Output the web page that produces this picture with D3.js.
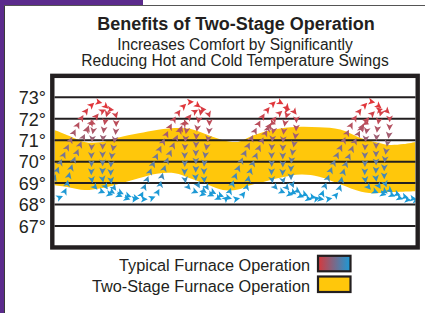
<!DOCTYPE html>
<html><head><meta charset="utf-8">
<script src="https://cdn.jsdelivr.net/npm/d3@7"></script>
<style>html,body{margin:0;padding:0;background:#fff;}svg{display:block;}</style>
</head><body>
<svg id="c" width="425" height="313"></svg>
<script>
// ---- data ----
const title = "Benefits of Two-Stage Operation";
const subtitle = ["Increases Comfort by Significantly", "Reducing Hot and Cold Temperature Swings"];
const tempTicks = [73, 72, 71, 70, 69, 68, 67];
const legendLabels = ["Typical Furnace Operation", "Two-Stage Furnace Operation"];

// Two-stage band (time in minutes, upper / lower temperature)
const bandTime = [0, 5, 10, 15, 21, 28, 34, 40, 45, 51, 56, 61, 65, 70, 75, 82, 88, 95, 102, 107, 111, 116, 120];
const bandHigh = [71.48, 71.2, 70.92, 70.9, 71.12, 71.32, 71.48, 71.57, 71.53, 71.24, 71.0, 70.92, 71.16, 71.4, 71.55, 71.63, 71.6, 71.5, 71.09, 70.9, 70.78, 70.82, 70.92];
const bandLow  = [68.9, 68.8, 68.68, 68.75, 68.95, 69.23, 69.44, 69.46, 69.23, 68.92, 68.68, 68.7, 68.9, 69.08, 69.25, 69.4, 69.3, 68.95, 68.6, 68.53, 68.58, 68.6, 68.62];

// Typical furnace strands [time, temperature]
const typicalA = [
  [-4.6,68.2],[-2.6,68.35],[-1.3,68.75],[0.4,69.4],[2.4,70.1],[4.7,70.8],[7.0,71.5],[9.3,72.1],[11.7,72.55],[14.0,72.78],[16.0,72.68],[17.7,72.45],[17.0,72.0],[16.3,71.4],[16.0,70.6],[16.0,69.8],[16.0,69.2],[17.0,68.85],[19.0,68.6],[22.0,68.4],[25.3,68.25],
  [28.4,68.35],[29.7,68.75],[31.4,69.4],[33.4,70.1],[35.7,70.8],[38.0,71.5],[40.3,72.1],[42.7,72.55],[45.0,72.78],[47.0,72.68],[48.7,72.45],[48.0,72.0],[47.3,71.4],[47.0,70.6],[47.0,69.8],[47.0,69.2],[48.0,68.85],[50.0,68.6],[53.0,68.4],[56.3,68.22],
  [57.6,68.4],[58.6,68.75],[60.3,69.4],[62.3,70.1],[64.6,70.8],[66.9,71.5],[69.2,72.1],[71.6,72.55],[73.9,72.8],[75.9,72.68],[77.6,72.45],[76.9,72.0],[76.2,71.4],[75.9,70.6],[75.9,69.8],[75.9,69.2],[76.9,68.85],[78.9,68.6],[81.9,68.4],[85.2,68.25],
  [88.3,68.35],[89.6,68.75],[91.3,69.4],[93.3,70.1],[95.6,70.8],[97.9,71.5],[100.2,72.1],[102.6,72.55],[104.9,72.8],[106.9,72.68],[108.6,72.45],[107.9,72.0],[107.2,71.4],[106.9,70.6],[106.9,69.8],[106.9,69.2],[107.9,68.85],[109.9,68.6],[112.9,68.4],[116.2,68.25],[120,68.2],[123,68.2]
];
const typicalB = [
  [-2,68.25],[2.0,68.35],[3.7,68.7],[4.7,69.3],[6.0,69.9],[7.7,70.5],[9.3,71.05],[11.3,71.6],[13.3,72.0],[15.3,72.3],[17.3,72.42],[19.3,72.4],[20.3,72.2],[20.5,71.8],[20.3,71.3],[19.7,70.8],[19.0,70.2],[18.7,69.6],[19.0,69.0],[20.3,68.7],[23.7,68.45],[27.3,68.3],[30.0,68.25],
  [33.0,68.35],[34.7,68.7],[35.7,69.3],[37.0,69.9],[38.7,70.5],[40.3,71.05],[42.3,71.6],[44.3,72.0],[46.3,72.3],[48.3,72.42],[50.3,72.4],[51.3,72.2],[51.5,71.8],[51.3,71.3],[50.7,70.8],[50.0,70.2],[49.7,69.6],[50.0,69.0],[51.3,68.7],[54.7,68.45],[58.3,68.3],[60.0,68.25],
  [61.9,68.35],[63.6,68.7],[64.6,69.3],[65.9,69.9],[67.6,70.5],[69.2,71.05],[71.2,71.6],[73.2,72.0],[75.2,72.3],[77.2,72.42],[79.2,72.4],[80.2,72.2],[80.4,71.8],[80.2,71.3],[79.6,70.8],[78.9,70.2],[78.6,69.6],[78.9,69.0],[80.2,68.7],[83.6,68.45],[87.2,68.3],[90.0,68.25],
  [92.9,68.35],[94.6,68.7],[95.6,69.3],[96.9,69.9],[98.6,70.5],[100.2,71.05],[102.2,71.6],[104.2,72.0],[106.2,72.3],[108.2,72.42],[110.2,72.4],[111.2,72.2],[111.4,71.8],[111.2,71.3],[110.6,70.8],[109.9,70.2],[109.6,69.6],[109.9,69.0],[111.2,68.7],[114.6,68.45],[118.2,68.3],[121.5,68.22]
];
const typicalC = [
  [[10.7,71.4],[12.0,71.8],[13.0,71.75],[12.7,71.3],[12.3,70.6],[12.3,69.9],[12.3,69.3],[13.0,68.9],[15.0,68.65],[18.0,68.5],[21.0,68.4]],
  [[41.7,71.4],[43.0,71.8],[44.0,71.75],[43.7,71.3],[43.3,70.6],[43.3,69.9],[43.3,69.3],[44.0,68.9],[46.0,68.65],[49.0,68.5],[52.0,68.4]],
  [[70.6,71.4],[71.9,71.8],[72.9,71.75],[72.6,71.3],[72.2,70.6],[72.2,69.9],[72.2,69.3],[72.9,68.9],[74.9,68.65],[77.9,68.5],[80.9,68.4]],
  [[101.6,71.4],[102.9,71.8],[103.9,71.75],[103.6,71.3],[103.2,70.6],[103.2,69.9],[103.2,69.3],[103.9,68.9],[105.9,68.65],[108.9,68.5],[111.9,68.4]]
];

// ---- drawing ----
const svg = d3.select("#c");
const ink = "#231f20";

// page decoration
svg.append("rect").attr("x",0).attr("y",0).attr("width",425).attr("height",313).attr("fill","#fff");
svg.append("rect").attr("x",0).attr("y",0).attr("width",143).attr("height",5).attr("fill","#5b2b8c");
svg.append("rect").attr("x",0).attr("y",0).attr("width",4).attr("height",313).attr("fill","#5b2b8c");
svg.append("line").attr("x1",4.5).attr("x2",4.5).attr("y1",5).attr("y2",313).attr("stroke","#3a3a3a").attr("stroke-width",1);
svg.append("line").attr("x1",4).attr("x2",425).attr("y1",5.5).attr("y2",5.5).attr("stroke","#555").attr("stroke-width",1);

const x = d3.scaleLinear().domain([0,120]).range([54.5,415.5]);
const y = d3.scaleLinear().domain([66,74]).range([247.45,75.85]);

// clip
svg.append("clipPath").attr("id","clip").append("rect")
  .attr("x",x(0)).attr("y",y(74)).attr("width",x(120)-x(0)).attr("height",y(66)-y(74));
const plot = svg.append("g").attr("clip-path","url(#clip)");

// band
const band = bandTime.map((t,i)=>({t, hi:bandHigh[i], lo:bandLow[i]}));
plot.append("path").datum(band)
  .attr("fill","#ffc70b")
  .attr("d", d3.area().x(d=>x(d.t)).y0(d=>y(d.lo)).y1(d=>y(d.hi)).curve(d3.curveCatmullRom));

// grid lines
plot.selectAll("line.grid").data(tempTicks).join("line")
  .attr("class","grid")
  .attr("x1",x(0)-2).attr("x2",x(120)+2)
  .attr("y1",d=>y(d)).attr("y2",d=>y(d))
  .attr("stroke",ink).attr("stroke-width",2);

// arrows
const color = d3.scaleLinear().domain([68.5,70.6,72.6]).range(["#1a9bd8","#857089","#e1363b"]).clamp(true);
const line = d3.line().x(d=>x(d[0])).y(d=>y(d[1])).curve(d3.curveCatmullRom.alpha(0.5));
const arrowShape = "M3.8,0 L-3.0,-3.4 L-1.3,0 L-3.0,3.4 Z";
function drawStrand(pts){
  const p = plot.append("path").attr("d", line(pts)).attr("fill","none").attr("stroke","none");
  const node = p.node();
  const L = node.getTotalLength();
  const step = 8.2;
  for(let s=3; s<L-1; s+=step){
    const a = node.getPointAtLength(Math.max(0,s-1.5));
    const b = node.getPointAtLength(Math.min(L,s+1.5));
    const c = node.getPointAtLength(s);
    const ang = Math.atan2(b.y-a.y, b.x-a.x)*180/Math.PI;
    plot.append("path").attr("d",arrowShape)
      .attr("transform",`translate(${c.x},${c.y}) rotate(${ang})`)
      .attr("fill", color(y.invert(c.y)));
  }
}
drawStrand(typicalA);
drawStrand(typicalB);
typicalC.forEach(drawStrand);

// frame
svg.append("rect").attr("x",x(0)-2.2).attr("y",y(74)).attr("width",x(120)-x(0)+4.4).attr("height",y(66)-y(74))
  .attr("fill","none").attr("stroke",ink).attr("stroke-width",4.4);

// tick labels
svg.selectAll("text.tick").data(tempTicks).join("text")
  .attr("class","tick")
  .attr("x",46).attr("y",d=>y(d)+6.8)
  .attr("text-anchor","end")
  .attr("font-family","Liberation Sans, Arial, sans-serif")
  .attr("font-size",18).attr("fill",ink)
  .text(d=>d+"°");

// titles
svg.append("text").attr("x",236).attr("y",30).attr("text-anchor","middle")
  .attr("font-family","Liberation Sans, Arial, sans-serif").attr("font-weight","bold")
  .attr("font-size",18).attr("fill",ink).text(title);
subtitle.forEach((s,i)=>{
  svg.append("text").attr("x",235).attr("y",50+i*16).attr("text-anchor","middle")
    .attr("font-family","Liberation Sans, Arial, sans-serif")
    .attr("font-size",15.6).attr("fill",ink).text(s);
});

// legend
const defs = svg.append("defs");
const grad = defs.append("linearGradient").attr("id","g1").attr("x1","0%").attr("x2","100%");
grad.append("stop").attr("offset","0%").attr("stop-color","#d8383b");
grad.append("stop").attr("offset","100%").attr("stop-color","#1a9bd8");
const legendFills = ["url(#g1)","#ffc70b"];
legendLabels.forEach((lab,i)=>{
  const yy = 255.8 + i*20.7;
  svg.append("rect").attr("x",318).attr("y",yy).attr("width",32.5).attr("height",15.5)
    .attr("fill",legendFills[i]).attr("stroke",ink).attr("stroke-width",2.2);
  svg.append("text").attr("x",310).attr("y",yy+15).attr("text-anchor","end")
    .attr("font-family","Liberation Sans, Arial, sans-serif")
    .attr("font-size",16.3).attr("fill",ink).text(lab);
});
</script>
</body></html>
